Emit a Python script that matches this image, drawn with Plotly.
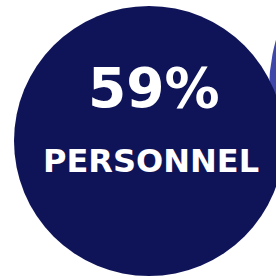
import plotly.graph_objects as go

# Data
share_value = [59]
share_label = ["PERSONNEL"]

W, H = 276, 277
NAVY = "#0f1458"
PURPLE = "#3f47ab"

fig = go.Figure()
fig.add_trace(go.Scatter(x=[None], y=[None], showlegend=False, hoverinfo="skip"))

# background decorative circle (behind)
fig.add_shape(type="circle", xref="x", yref="y",
              x0=269, x1=269 + 2 * 184, y0=90 - 184, y1=90 + 184,
              fillcolor=PURPLE, line=dict(width=0), layer="below")
# main circle
fig.add_shape(type="circle", xref="x", yref="y",
              x0=149 - 135, x1=149 + 135, y0=141 - 135, y1=141 + 135,
              fillcolor=NAVY, line=dict(width=0), layer="below")

fig.add_annotation(x=154, y=88, xref="x", yref="y",
                   text=f"{share_value[0]}%", showarrow=False,
                   font=dict(family="DejaVu Sans", size=55, color="white", weight="bold"),
                   xanchor="center", yanchor="middle")
fig.add_annotation(x=151, y=161, xref="x", yref="y",
                   text=share_label[0], showarrow=False,
                   font=dict(family="DejaVu Sans", size=32, color="white", weight="bold"),
                   xanchor="center", yanchor="middle")

fig.update_layout(
    width=W, height=H,
    margin=dict(l=0, r=0, t=0, b=0),
    paper_bgcolor="white", plot_bgcolor="white",
    xaxis=dict(range=[0, W], visible=False, fixedrange=True),
    yaxis=dict(range=[H, 0], visible=False, fixedrange=True),
    showlegend=False,
)
fig.write_html("out.html", config={"displayModeBar": False},
               post_script="document.body.style.margin='0';document.body.style.overflow='hidden';")
